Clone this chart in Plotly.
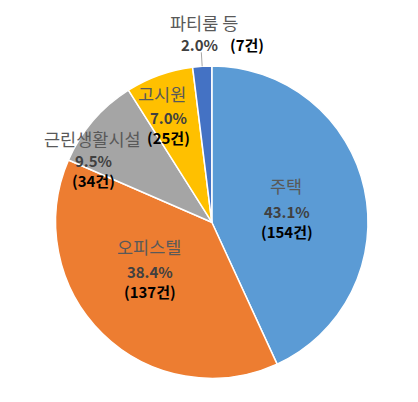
import math
import plotly.graph_objects as go

# ---- data ----
categories = ["주택", "오피스텔", "근린생활시설", "고시원", "파티룸 등"]
counts = [154, 137, 34, 25, 7]
colors = ["#5B9BD5", "#ED7D31", "#A5A5A5", "#FFC000", "#4472C4"]

# ---- layout constants ----
W, H = 418, 402
CX, CY, R = 211.8, 222.2, 156.2  # pie centre / radius in pixels

# label placement: (radius fraction, angle tweak deg) for the percentage line,
# plus offsets (px) of the name line and of the value block centre
label_polar = [(0.487, 3.6), (0.507, 6.9), (0.857, -13.2), (0.739, -4.2), None]
name_off = [(-1, -24.7), (-1, -25.7), (0, -22.4), (-3, -22.7), None]
block_off = [(0.5, 10.5), (0, 9.5), (1, 9.5), (3, 10.5), None]

NAME_FONT = dict(family="Noto Sans CJK KR", size=17.5, color="#595959")
PCT_COLOR = "#404040"
VAL_FONT = dict(family="Noto Sans CJK KR", size=15, color="#000000")

total = sum(counts)
pcts = [c / total * 100 for c in counts]


def to_paper(px, py):
    return px / W, 1 - py / H


fig = go.Figure(go.Pie(
    labels=categories,
    values=counts,
    sort=False,
    direction="clockwise",
    rotation=0,
    marker=dict(colors=colors, line=dict(color="white", width=1.5)),
    textinfo="none",
    hoverinfo="label+percent+value",
    showlegend=False,
    domain=dict(x=[(CX - R) / W, (CX + R) / W], y=[1 - (CY + R) / H, 1 - (CY - R) / H]),
))

annotations = []
shapes = []
cum = 0.0
for i, (cat, c, p) in enumerate(zip(categories, counts, pcts)):
    mid = (cum + p / 2) / 100 * 360
    cum += p
    pct_txt = f"<span style='color:{PCT_COLOR}'>{p:.1f}%</span>"
    cnt_txt = f"({c}건)"
    if label_polar[i] is not None:
        rho, dth = label_polar[i]
        a = math.radians(mid + dth)
        px = CX + rho * R * math.sin(a)
        py = CY - rho * R * math.cos(a)
        x, y = to_paper(px + name_off[i][0], py + name_off[i][1])
        annotations.append(dict(x=x, y=y, xref="paper", yref="paper", text=cat,
                                showarrow=False, font=NAME_FONT, xanchor="center", yanchor="middle"))
        x, y = to_paper(px + block_off[i][0], py + block_off[i][1])
        annotations.append(dict(x=x, y=y, xref="paper", yref="paper",
                                text=f"<b>{pct_txt}<br>{cnt_txt}</b>",
                                showarrow=False, font=VAL_FONT, xanchor="center", yanchor="middle",
                                align="center"))
    else:
        # outside label with a short leader line
        a = math.radians(mid)
        x0p, y0p = CX + R * math.sin(a), CY - R * math.cos(a)
        x1p, y1p = CX + (R + 14) * math.sin(a), CY - (R + 14) * math.cos(a)
        x0, y0 = to_paper(x0p, y0p)
        x1, y1 = to_paper(x1p, y1p)
        shapes.append(dict(type="line", xref="paper", yref="paper", x0=x0, y0=y0, x1=x1, y1=y1,
                           line=dict(color="#A6A6A6", width=1)))
        xn, yn = to_paper(x1p + 2.2, y1p - 30.3)
        annotations.append(dict(x=xn, y=yn, xref="paper", yref="paper", text=cat,
                                showarrow=False, font=NAME_FONT, xanchor="center", yanchor="middle"))
        xp, yp = to_paper(x1p + 19, y1p - 8)
        annotations.append(dict(x=xp, y=yp, xref="paper", yref="paper", text=f"<b>{pct_txt}</b>",
                                showarrow=False, font=VAL_FONT, xanchor="right", yanchor="middle"))
        xc, yc = to_paper(x1p + 26.5, y1p - 8)
        annotations.append(dict(x=xc, y=yc, xref="paper", yref="paper", text=f"<b>{cnt_txt}</b>",
                                showarrow=False, font=VAL_FONT, xanchor="left", yanchor="middle"))

fig.update_layout(
    width=W, height=H,
    margin=dict(l=0, r=0, t=0, b=0),
    paper_bgcolor="white",
    plot_bgcolor="white",
    annotations=annotations,
    shapes=shapes,
)

fig.write_html("out.html", config={"displayModeBar": False},
               post_script="document.body.style.margin='0';")
